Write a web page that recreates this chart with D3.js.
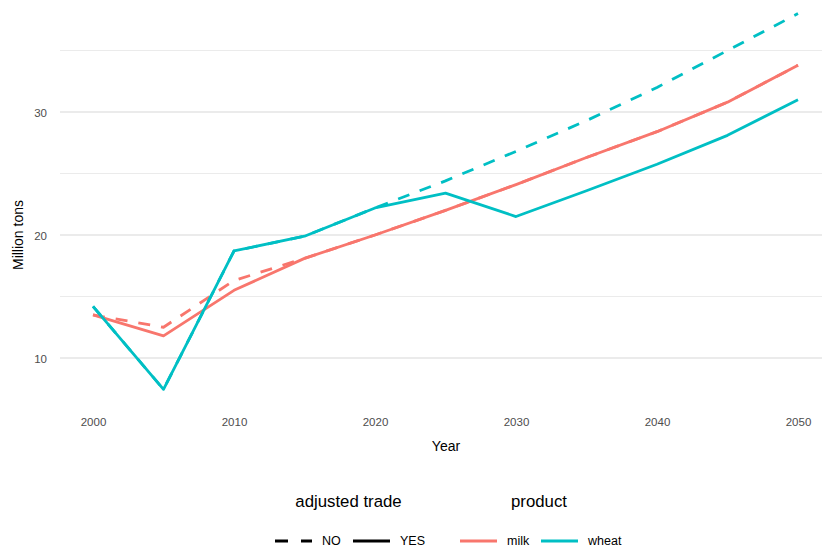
<!DOCTYPE html>
<html><head><meta charset="utf-8">
<script src="https://cdn.jsdelivr.net/npm/d3@7"></script>
<style>body{margin:0;background:#fff}svg{display:block}text{font-family:"Liberation Sans",Arial,sans-serif}</style>
</head><body><svg id="c" width="822" height="549"></svg>
<script>
const years = [2000,2005,2010,2015,2020,2025,2030,2035,2040,2045,2050];
const milkYes  = [13.5, 11.8, 15.5, 18.1, 20.0, 22.0, 24.1, 26.3, 28.4, 30.8, 33.8];
const milkNo   = [13.5, 12.5, 16.3, 18.1, 20.0, 22.0, 24.1, 26.3, 28.4, 30.8, 33.8];
const wheatYes = [14.2, 7.45, 18.7, 19.9, 22.2, 23.4, 21.5, 23.6, 25.75, 28.1, 31.0];
const wheatNo  = [14.2, 7.45, 18.7, 19.9, 22.2, 24.4, 26.8, 29.3, 32.0, 35.0, 38.0];
const xTicks = [2000,2010,2020,2030,2040,2050];
const yMajor = [10,20,30];
const yMinor = [15,25,35];
const tradeLevels = ["NO","YES"];
const products = ["milk","wheat"];
const colors = {milk:"#F8766D", wheat:"#00BFC4"};

const svg = d3.select("#c");
const x = d3.scaleLinear().domain([2000,2050]).range([93,798]);
const y = d3.scaleLinear().domain([10,30]).range([358,112]);
const panelL = 60, panelR = 822;

// grid
svg.append("g").selectAll("line").data(yMinor).join("line")
  .attr("x1",panelL).attr("x2",panelR).attr("y1",d=>y(d)).attr("y2",d=>y(d))
  .attr("stroke","#EBEBEB").attr("stroke-width",1);
svg.append("g").selectAll("line").data(yMajor).join("line")
  .attr("x1",panelL).attr("x2",panelR).attr("y1",d=>y(d)).attr("y2",d=>y(d))
  .attr("stroke","#EBEBEB").attr("stroke-width",2);

// axes
const yAxis = d3.axisLeft(y).tickValues(yMajor).tickSize(0).tickPadding(0);
const ya = svg.append("g").attr("transform","translate(47,0)").call(yAxis);
ya.select(".domain").remove();
ya.selectAll("text").attr("fill","#4D4D4D").style("font-size","11.5px").attr("dy","0.35em");
const xAxis = d3.axisBottom(x).tickValues(xTicks).tickFormat(d3.format("d")).tickSize(0).tickPadding(0);
const xa = svg.append("g").attr("transform","translate(0,418)").call(xAxis);
xa.select(".domain").remove();
xa.selectAll("text").attr("fill","#4D4D4D").style("font-size","11.5px").attr("dy","0.71em");

svg.append("text").attr("x",446).attr("y",451).attr("text-anchor","middle")
  .style("font-size","14px").attr("fill","#000").text("Year");
svg.append("text").attr("transform","translate(23,235) rotate(-90)").attr("text-anchor","middle")
  .style("font-size","14px").attr("fill","#000").text("Million tons");

// lines
const series = [
  {p:"milk", t:"NO", v:milkNo},
  {p:"milk", t:"YES", v:milkYes},
  {p:"wheat", t:"NO", v:wheatNo},
  {p:"wheat", t:"YES", v:wheatYes}
];
const line = d3.line().x((d,i)=>x(years[i])).y(d=>y(d));
svg.append("g").selectAll("path").data(series).join("path")
  .attr("d",d=>line(d.v)).attr("fill","none")
  .attr("stroke",d=>colors[d.p]).attr("stroke-width",2.8)
  .attr("stroke-dasharray",d=>d.t==="NO"?"12,11":null)
  .attr("stroke-linejoin","round");

// legend
const lg = svg.append("g");
lg.append("text").attr("x",348.5).attr("y",507).attr("text-anchor","middle")
  .style("font-size","16.8px").text("adjusted trade");
lg.append("text").attr("x",539).attr("y",507).attr("text-anchor","middle")
  .style("font-size","16.8px").text("product");
const tradeKeys = [{t:"NO",x0:275},{t:"YES",x0:353}];
tradeKeys.forEach((k,i)=>{
  lg.append("line").attr("x1",k.x0).attr("x2",k.x0+37).attr("y1",541).attr("y2",541)
    .attr("stroke","#000").attr("stroke-width",2.8)
    .attr("stroke-dasharray",tradeLevels[i]==="NO"?"13,13":null);
  lg.append("text").attr("x",k.x0+47).attr("y",541).attr("dy","0.35em")
    .style("font-size","12.5px").text(tradeLevels[i]);
});
const prodKeys = [460,541];
products.forEach((p,i)=>{
  lg.append("line").attr("x1",prodKeys[i]).attr("x2",prodKeys[i]+37).attr("y1",541).attr("y2",541)
    .attr("stroke",colors[p]).attr("stroke-width",2.8);
  lg.append("text").attr("x",prodKeys[i]+47).attr("y",541).attr("dy","0.35em")
    .style("font-size","12.5px").text(p);
});
</script></body></html>
